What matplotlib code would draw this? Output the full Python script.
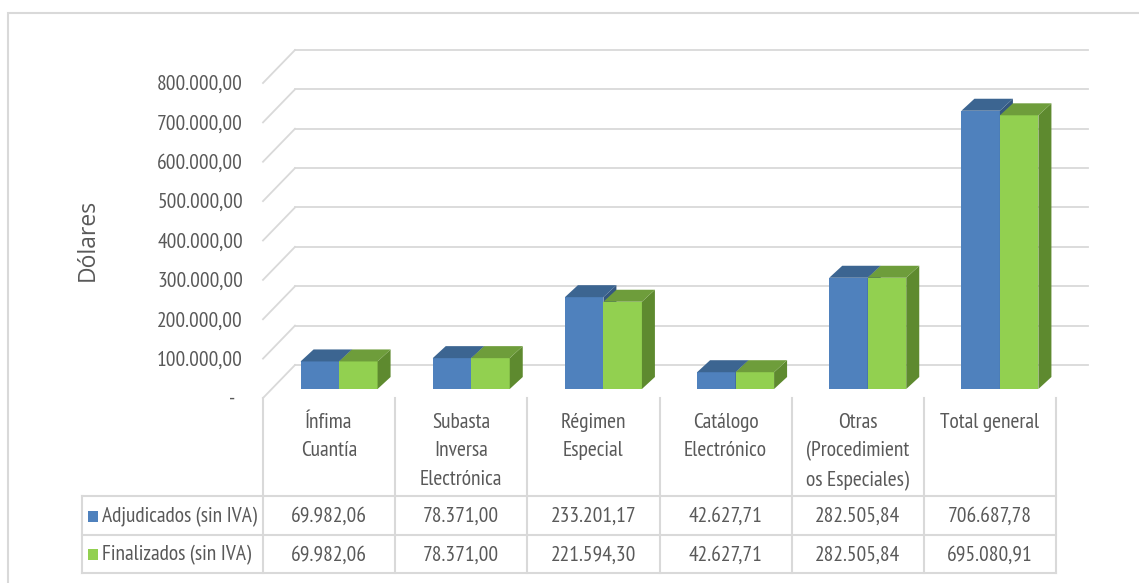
import matplotlib
matplotlib.use("Agg")
import matplotlib.pyplot as plt
from matplotlib.patches import Polygon, Rectangle
from matplotlib.lines import Line2D

# ---------------- data ----------------
categories = ["Ínfima\nCuantía", "Subasta\nInversa\nElectrónica", "Régimen\nEspecial",
              "Catálogo\nElectrónico", "Otras\n(Procedimient\nos Especiales)", "Total general"]
adjudicados = [69982.06, 78371.00, 233201.17, 42627.71, 282505.84, 706687.78]
finalizados = [69982.06, 78371.00, 221594.30, 42627.71, 282505.84, 695080.91]
series_names = ["Adjudicados (sin IVA)", "Finalizados (sin IVA)"]
yticks = [0, 100000, 200000, 300000, 400000, 500000, 600000, 700000, 800000]
ylabel = "Dólares"

# ---------------- style ----------------
W, H = 1139, 583
TXT = "#595959"
GRID = "#D9D9D9"
front_cols = ["#4F81BD", "#92D050"]
top_cols = ["#3C6591", "#6E9D3B"]
side_cols = ["#34577F", "#5E8A2F"]
FONT = ["PT Sans Narrow", "DejaVu Sans"]
FS = 15.5


def fmt(v):
    s = f"{v:,.2f}"
    return s.replace(",", "X").replace(".", ",").replace("X", ".")


def fx(px):
    return px / W


def fy(py):
    return 1 - py / H


fig = plt.figure(figsize=(W / 100, H / 100), dpi=100)

# outer border
fig.add_artist(Rectangle((fx(8), fy(600)), fx(1160) - fx(8), fy(13) - fy(600),
                         transform=fig.transFigure, fill=False, ec=GRID, lw=1.5))

# front plane axes
L, R, T, B = 263, 1056, 83, 398
ax = fig.add_axes([fx(L), fy(B), fx(R) - fx(L), fy(T) - fy(B)])
ax.set_xlim(0, len(categories))
ax.set_ylim(0, 800000)
ax.axis("off")

sx = (R - L) / len(categories)      # px per x unit
sy = (B - T) / 800000.0             # px per value unit


def dxp(p):
    return p / sx


def dyp(p):
    return p / sy


# back wall
BX, BY = 32, 33
x_back_end = dxp(1088 - L)
for v in yticks:
    ax.add_line(Line2D([0, dxp(BX)], [v, v + dyp(BY)], color=GRID, lw=1.3, clip_on=False, zorder=1))
    ax.add_line(Line2D([dxp(BX), x_back_end], [v + dyp(BY), v + dyp(BY)], color=GRID, lw=1.3,
                       clip_on=False, zorder=1))

# tick labels
for v in yticks:
    lab = fmt(v) if v else "-"
    xpos = fx(243) if v else fx(235)
    fig.text(xpos, fy(B - v * sy + 1.5), lab, ha="right", va="center", color=TXT,
             fontsize=FS, family=FONT)

fig.text(fx(88), fy(240), ylabel, rotation=90, ha="center", va="center", color=TXT,
         fontsize=16.5, family=["Open Sans", "DejaVu Sans"])

# bars (3D look)
bw = dxp(38.5)
xo, yo = dxp(10), dyp(9)
ddx, ddy = dxp(13), dyp(12)
for i in range(len(categories)):
    for k, vals in enumerate([adjudicados, finalizados]):
        h = vals[i]
        x0 = i + 0.5 - bw + k * bw + xo
        x1 = x0 + bw
        y0 = yo
        y1 = yo + h
        z = 3 + i * 3 + k
        ax.add_patch(Polygon([[x0, y0], [x1, y0], [x1, y1], [x0, y1]], closed=True,
                             fc=front_cols[k], ec="none", clip_on=False, zorder=z))
        ax.add_patch(Polygon([[x1, y0], [x1 + ddx, y0 + ddy], [x1 + ddx, y1 + ddy], [x1, y1]],
                             closed=True, fc=side_cols[k], ec="none", clip_on=False, zorder=z))
        ax.add_patch(Polygon([[x0, y1], [x1, y1], [x1 + ddx, y1 + ddy], [x0 + ddx, y1 + ddy]],
                             closed=True, fc=top_cols[k], ec="none", clip_on=False, zorder=z))

# ---------------- data table ----------------
row_tops = [398, 496, 535, 573]
col_edges = [L + j * sx for j in range(len(categories) + 1)]
hdr_left = 82

for y in row_tops[1:]:
    fig.add_artist(Line2D([fx(hdr_left), fx(R)], [fy(y), fy(y)], transform=fig.transFigure,
                          color=GRID, lw=1.5))
for xe in col_edges:
    fig.add_artist(Line2D([fx(xe), fx(xe)], [fy(row_tops[0]), fy(row_tops[-1])],
                          transform=fig.transFigure, color=GRID, lw=1.5))
fig.add_artist(Line2D([fx(hdr_left), fx(hdr_left)], [fy(row_tops[1]), fy(row_tops[-1])],
                      transform=fig.transFigure, color=GRID, lw=1.5))

# category labels
for j, c in enumerate(categories):
    fig.text(fx(L + (j + 0.5) * sx), fy(413), c, ha="center", va="top", color=TXT,
             fontsize=FS, family=FONT, linespacing=1.62)

# rows
for r, (name, vals) in enumerate(zip(series_names, [adjudicados, finalizados])):
    yc = (row_tops[r + 1] + row_tops[r + 2]) / 2
    fig.add_artist(Rectangle((fx(88), fy(yc + 6)), fx(98) - fx(88), fy(yc - 5) - fy(yc + 6),
                             transform=fig.transFigure, fc=front_cols[r], ec="none"))
    fig.text(fx(102), fy(yc + 1), name, ha="left", va="center", color=TXT, fontsize=FS,
             family=FONT)
    for j, v in enumerate(vals):
        fig.text(fx(L + (j + 0.5) * sx), fy(yc + 1), fmt(v), ha="center", va="center", color=TXT,
                 fontsize=FS, family=FONT)

fig.savefig("out.png", dpi=100, facecolor="white")
